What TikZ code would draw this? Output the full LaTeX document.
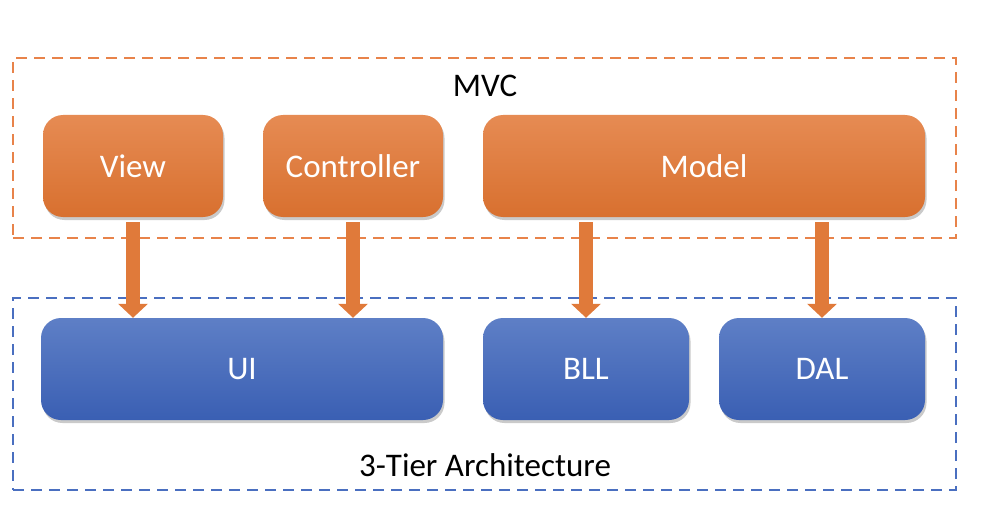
\documentclass[tikz,border=0pt]{standalone}
\usepackage{fontspec}
\setmainfont{Carlito}
\usetikzlibrary{arrows.meta,shadows,calc}
\definecolor{orgT}{HTML}{E68B53}
\definecolor{orgB}{HTML}{D8702F}
\definecolor{bluT}{HTML}{5E7FC6}
\definecolor{bluB}{HTML}{3A5FB3}
\definecolor{orgLine}{HTML}{E8834A}
\definecolor{bluLine}{HTML}{4A6FC0}
\definecolor{arrC}{HTML}{E07A3A}
\tikzset{
  boxbase/.style={rounded corners=20pt, minimum height=102pt, text=white,
    font=\fontsize{33}{40}\selectfont, inner sep=0pt,
    drop shadow={shadow xshift=1.5pt, shadow yshift=-3pt, opacity=0.35, fill=black!60}},
  obox/.style={boxbase, top color=orgT, bottom color=orgB},
  bbox/.style={boxbase, top color=bluT, bottom color=bluB},
  frame/.style={dash pattern=on 11pt off 7pt, line width=1.8pt, fill=none},
  label/.style={font=\fontsize{33}{40}\selectfont, text=black},
  blockarrow/.style={line width=14pt, draw=arrC, -{Triangle[width=29pt,length=14pt]}, shorten >=0pt}
}
\begin{document}
\begin{tikzpicture}[x=1pt,y=-1pt]
\useasboundingbox (0,0) rectangle (984,524);
% frames
\node[frame, draw=orgLine, minimum width=943pt, minimum height=180pt] (mvc) at (484.5,148) {};
\node[frame, draw=bluLine, minimum width=943pt, minimum height=192pt] (tier) at (484.5,394) {};
\node[label] (mvclbl) at (485,86) {MVC};
\node[label] (tierlbl) at (485,465) {3-Tier Architecture};
% boxes
\node[obox, minimum width=180pt] (view) at (133,166) {View};
\node[obox, minimum width=180pt] (ctrl) at (353,166) {Controller};
\node[obox, minimum width=442pt] (model) at (704,166) {Model};
\node[bbox, minimum width=402pt] (ui) at (242,369) {UI};
\node[bbox, minimum width=206pt] (bll) at (586,369) {BLL};
\node[bbox, minimum width=206pt] (dal) at (822,369) {DAL};
% arrows
\draw[blockarrow] ($(view.south)+(0,5)$) -- (view.south |- ui.north);
\draw[blockarrow] ($(ctrl.south)+(0,5)$) -- (ctrl.south |- ui.north);
\draw[blockarrow] ($(model.south -| bll.north)+(0,5)$) -- (bll.north);
\draw[blockarrow] ($(model.south -| dal.north)+(0,5)$) -- (dal.north);
\end{tikzpicture}
\end{document}
